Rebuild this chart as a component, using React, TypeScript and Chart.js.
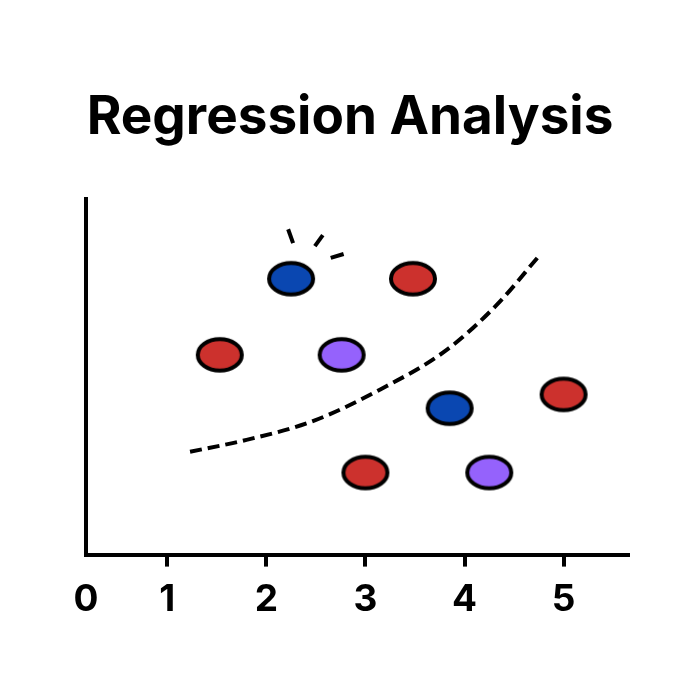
import React, { useEffect, useRef } from 'react';
import { Chart, registerables } from 'chart.js';

Chart.register(...registerables);

// ---- data ----
const titleText = 'Regression Analysis';
const xTickValues = [0.18, 1, 2, 3, 4, 5];
const xTickLabels = ['0', '1', '2', '3', '4', '5'];

const pointX = [2.25, 3.48, 1.53, 2.76, 3.85, 5.0, 3.0, 4.25];
const pointY = [2.79, 2.79, 2.02, 2.02, 1.48, 1.62, 0.83, 0.83];
const pointGroup = ['blue', 'red', 'red', 'purple', 'blue', 'red', 'red', 'purple'];

const curveX = [1.23, 1.8, 2.47, 3.15, 3.82, 4.33, 4.76];
const curveY = [1.04, 1.16, 1.35, 1.67, 2.07, 2.53, 3.03];

const sparkleX = [
  [2.22, 2.27],
  [2.57, 2.49],
  [2.65, 2.78],
];
const sparkleY = [
  [3.29, 3.15],
  [3.23, 3.12],
  [3.0, 3.04],
];

// ---- styles ----
const groupColors: Record<string, string> = {
  blue: '#0a47b1',
  red: '#cc312d',
  purple: '#9562fc',
};

function makeEllipse(color: string): HTMLCanvasElement {
  const c = document.createElement('canvas');
  c.width = 52;
  c.height = 40;
  const ctx = c.getContext('2d')!;
  ctx.beginPath();
  ctx.ellipse(26, 20, 22, 15.8, 0, 0, Math.PI * 2);
  ctx.fillStyle = color;
  ctx.fill();
  ctx.lineWidth = 4;
  ctx.strokeStyle = '#000';
  ctx.stroke();
  return c;
}

export default function App() {
  const ref = useRef<HTMLCanvasElement | null>(null);

  useEffect(() => {
    if (!ref.current) return;
    const images: Record<string, HTMLCanvasElement> = {};
    Object.keys(groupColors).forEach((k) => (images[k] = makeEllipse(groupColors[k])));

    const sparkleSets = sparkleX.map((xs, i) => ({
      type: 'line' as const,
      data: xs.map((x, j) => ({ x, y: sparkleY[i][j] })),
      borderColor: '#000',
      borderWidth: 4,
      borderCapStyle: 'butt' as const,
      pointRadius: 0,
      fill: false,
    }));

    const chart = new Chart(ref.current, {
      type: 'scatter',
      data: {
        datasets: [
          {
            type: 'scatter',
            data: pointX.map((x, i) => ({ x, y: pointY[i] })),
            pointStyle: (ctx: any) => images[pointGroup[ctx.dataIndex]] as any,
            pointRadius: 20,
          } as any,
          {
            type: 'line',
            data: curveX.map((x, i) => ({ x, y: curveY[i] })),
            borderColor: '#000',
            borderWidth: 4,
            borderDash: [12, 6],
            borderCapStyle: 'butt',
            cubicInterpolationMode: 'monotone',
            pointRadius: 0,
            fill: false,
          } as any,
          ...(sparkleSets as any[]),
        ],
      },
      options: {
        responsive: false,
        animation: false,
        events: [],
        layout: { padding: { top: 0, left: 72, right: 72, bottom: 67 } },
        plugins: {
          legend: { display: false },
          tooltip: { enabled: false },
          title: {
            display: true,
            text: titleText,
            color: '#000',
            font: { family: 'Inter', weight: 'bold', size: 53, lineHeight: 1.2 },
            padding: { top: 86, bottom: 49 },
          },
        },
        scales: {
          x: {
            type: 'linear',
            min: 0.18,
            max: 5.65,
            afterBuildTicks: (scale: any) => {
              scale.ticks = xTickValues.map((v) => ({ value: v }));
            },
            border: { display: true, width: 4, color: '#000' },
            grid: {
              display: true,
              drawOnChartArea: false,
              drawTicks: true,
              tickLength: 12,
              lineWidth: 4,
              tickWidth: 4,
              tickColor: (ctx: any) => (ctx.index === 0 ? 'rgba(0,0,0,0)' : '#000'),
            },
            ticks: {
              color: '#000',
              padding: 11,
              maxRotation: 0,
              autoSkip: false,
              font: { family: 'Inter', weight: 'bold', size: 37, lineHeight: 1.2 },
              callback: (_v: any, i: number) => xTickLabels[i],
            },
          },
          y: {
            type: 'linear',
            min: 0,
            max: 3.6,
            border: { display: true, width: 4, color: '#000' },
            grid: {
              display: true,
              drawOnChartArea: false,
              drawTicks: true,
              tickLength: 14,
              lineWidth: 4,
              tickColor: 'rgba(0,0,0,0)',
            },
            ticks: { display: false },
          },
        },
      } as any,
    });
    return () => chart.destroy();
  }, []);

  return (
    <canvas
      ref={ref}
      width={700}
      height={700}
      style={{ position: 'fixed', left: 0, top: 0, display: 'block', background: '#fff' }}
    />
  );
}
